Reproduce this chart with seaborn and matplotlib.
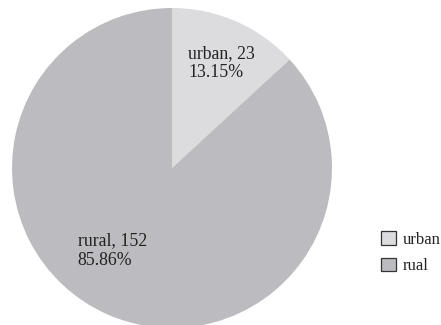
import matplotlib
matplotlib.use('Agg')
import matplotlib.pyplot as plt
import seaborn as sns

# データ
categories = ['urban', 'rural']
legend_labels = ['urban', 'rual']
counts = [23, 152]
pct_text = ['13.15%', '85.86%']
colors = ['#dcdcde', '#bcbcc0']

sns.set_theme(style='white')
plt.rcParams['font.family'] = ['Liberation Serif', 'DejaVu Serif']

fig = plt.figure(figsize=(4.41, 3.25), dpi=100)
ax = fig.add_axes([12/441, -3/325, 320/441, 320/325])

wedges, _ = ax.pie(counts, colors=colors, startangle=90, counterclock=False,
                   radius=1, wedgeprops={'linewidth': 0})
ax.set_xlim(-1, 1)
ax.set_ylim(-1, 1)
ax.set_aspect('equal')
ax.axis('off')

# スライスのラベル
label_pos = [(0.1, 0.77), (-0.59, -0.40)]
for (x, y), c, n, p in zip(label_pos, categories, counts, pct_text):
    ax.text(x, y, f'{c}, {n}\n{p}', ha='left', va='top', fontsize=12.8,
            color='#222222', linespacing=1.2)

leg = fig.legend(wedges, legend_labels, loc='upper left',
                 bbox_to_anchor=(373/441, 1 - 223/325), frameon=False,
                 fontsize=12, handlelength=0.85, handleheight=0.85,
                 handletextpad=0.45, labelspacing=0.6, borderpad=0)
for h in leg.legend_handles:
    h.set_edgecolor('#333333')
    h.set_linewidth(0.9)
for t in leg.get_texts():
    t.set_color('#222222')

fig.savefig('out.png', dpi=100)
